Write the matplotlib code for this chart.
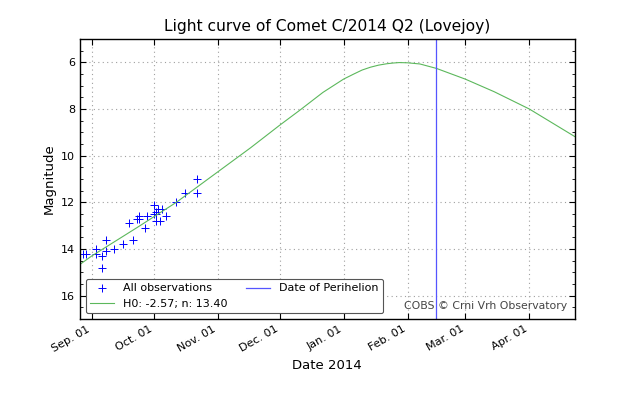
import pandas as pd
import matplotlib
matplotlib.use('Agg')
import matplotlib.pyplot as plt
import matplotlib.dates as mdates
from matplotlib.ticker import MultipleLocator

# observations
obs_dates = ['2014-08-28', '2014-08-29', '2014-09-03', '2014-09-03', '2014-09-06',
             '2014-09-06', '2014-09-08', '2014-09-08', '2014-09-12', '2014-09-16',
             '2014-09-19', '2014-09-21', '2014-09-23', '2014-09-24', '2014-09-24',
             '2014-09-27', '2014-09-28', '2014-10-01', '2014-10-01', '2014-10-02',
             '2014-10-02', '2014-10-03', '2014-10-02', '2014-10-04', '2014-10-05',
             '2014-10-07', '2014-10-12', '2014-10-16', '2014-10-22', '2014-10-22']
obs_mag = [14.2, 14.2, 14.0, 14.2, 14.3,
           14.8, 13.6, 14.1, 14.0, 13.8,
           12.9, 13.6, 12.7, 12.6, 12.7,
           13.1, 12.6, 12.1, 12.5, 12.4,
           12.5, 12.3, 12.8, 12.8, 12.3,
           12.6, 12.0, 11.6, 11.0, 11.6]

# H0 model curve
fit_dates = ['2014-08-26', '2014-09-01', '2014-09-23', '2014-10-12', '2014-11-01',
             '2014-11-17', '2014-12-01', '2014-12-11', '2014-12-22', '2015-01-01',
             '2015-01-06', '2015-01-10', '2015-01-14', '2015-01-18', '2015-01-22',
             '2015-01-25', '2015-01-28', '2015-02-01', '2015-02-07', '2015-02-15',
             '2015-03-01', '2015-03-15', '2015-04-01', '2015-04-23']
fit_mag = [14.68, 14.30, 13.08, 12.00, 10.70,
           9.66, 8.70, 8.04, 7.29, 6.72,
           6.50, 6.33, 6.21, 6.12, 6.06,
           6.03, 6.01, 6.02, 6.07, 6.26,
           6.72, 7.26, 8.00, 9.18]

perihelion = '2015-02-15'
x_start, x_end = '2014-08-26 08:00', '2015-04-23'

fig = plt.figure(figsize=(6.4, 4.0), dpi=100, facecolor='white')
ax = fig.add_axes([0.125, 0.2025, 0.773, 0.70])

ax.plot(pd.to_datetime(obs_dates), obs_mag, '+', color='blue', markersize=5.5,
        markeredgewidth=0.7, label='All observations')
ax.plot(pd.to_datetime(fit_dates), fit_mag, '-', color='#5cb85c', linewidth=0.8,
        label='H0: -2.57; n: 13.40')
ax.axvline(pd.to_datetime(perihelion), color='#5555ff', linewidth=0.9,
           label='Date of Perihelion')

ax.set_xlim(pd.to_datetime(x_start), pd.to_datetime(x_end))
ax.set_ylim(17, 5)

ax.xaxis.set_major_locator(mdates.MonthLocator())
ax.xaxis.set_major_formatter(mdates.DateFormatter('%b. %d'))
ax.yaxis.set_major_locator(MultipleLocator(2))
ax.yaxis.set_minor_locator(MultipleLocator(0.5))
ax.tick_params(which='both', direction='in', top=True, right=True, labelsize=8)
ax.tick_params(which='major', length=4)
ax.tick_params(which='minor', length=2)
for lab in ax.get_xticklabels():
    lab.set_rotation(30)
    lab.set_ha('right')

ax.grid(True, linestyle=(0, (1, 3)), color='#a0a0a0', linewidth=0.8)
for s in ax.spines.values():
    s.set_linewidth(1.0)

ax.set_title('Light curve of Comet C/2014 Q2 (Lovejoy)', fontsize=11.2)
ax.set_xlabel('Date 2014', fontsize=9.5)
ax.set_ylabel('Magnitude', fontsize=9.5)

h, l = ax.get_legend_handles_labels()
leg = ax.legend(h, l, loc='lower left', ncol=2, fontsize=8, numpoints=1,
                columnspacing=1.6, handlelength=2.2, borderaxespad=0.5,
                fancybox=True, framealpha=1.0, edgecolor='#555555')
leg.get_frame().set_linewidth(0.8)

ax.text(0.985, 0.045, 'COBS \u00a9 Crni Vrh Observatory', transform=ax.transAxes,
        ha='right', va='center', fontsize=7.8, color='#444444')

fig.savefig('out.png', dpi=100, facecolor='white')
